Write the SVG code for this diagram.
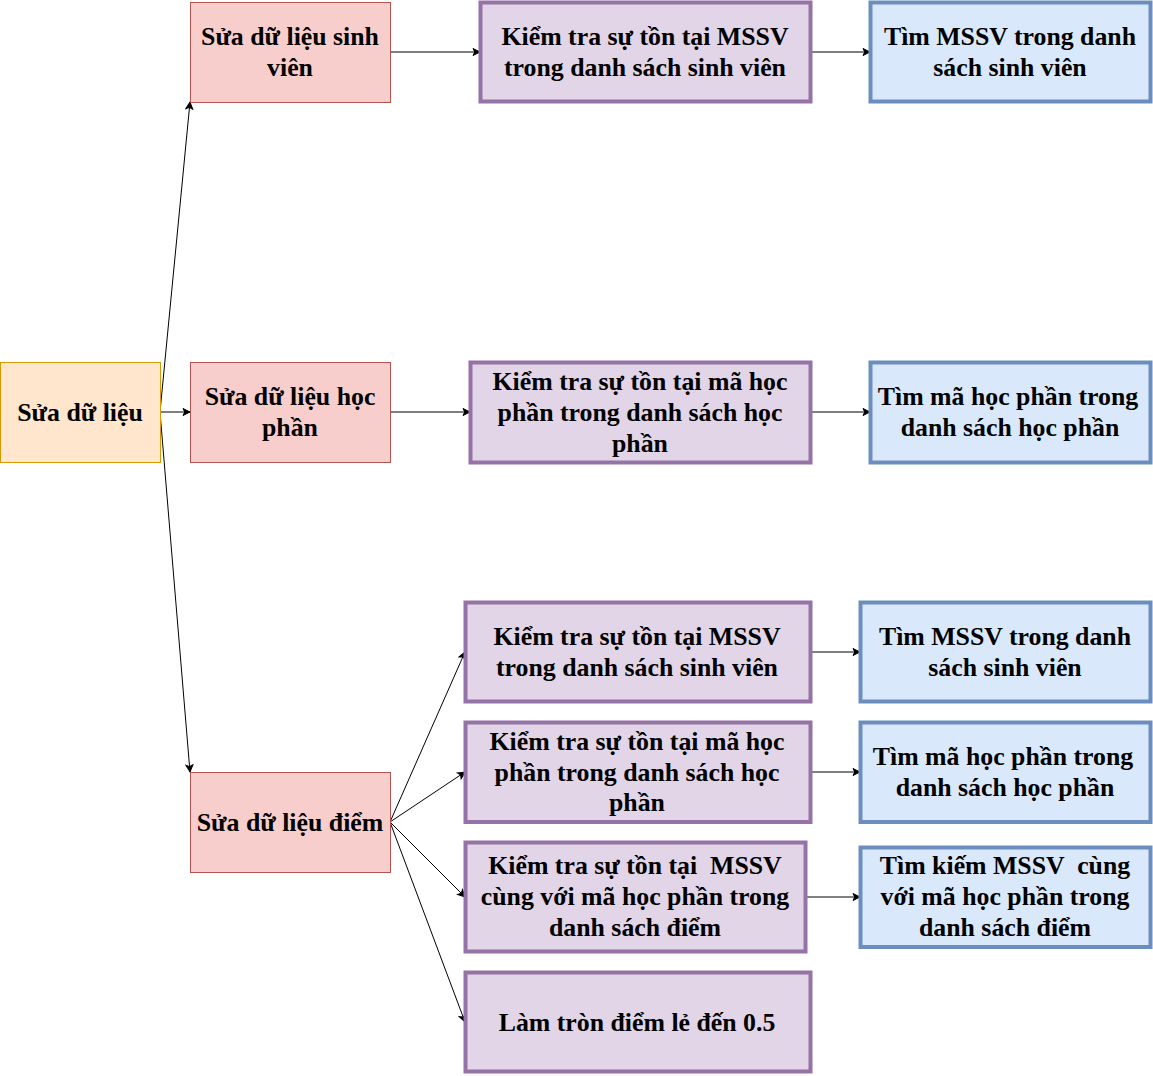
<svg xmlns="http://www.w3.org/2000/svg" width="1153" height="1076" viewBox="0 0 1153 1076">
<style>
text{font-family:"Liberation Serif","Times New Roman",serif;font-weight:bold;font-size:25.8px;fill:#000;text-anchor:middle;white-space:pre}
.a rect{fill:#ffe6cc;stroke:#d79b00;stroke-width:1}
.b rect{fill:#f8cecc;stroke:#b85450;stroke-width:1}
.c rect{fill:#e1d5e7;stroke:#9673a6;stroke-width:4}
.d rect{fill:#dae8fc;stroke:#6c8ebf;stroke-width:4}
#edges line{stroke:#000;stroke-width:1;fill:none;marker-end:url(#arr)}
</style>
<defs>
<marker id="arr" markerUnits="userSpaceOnUse" markerWidth="10" markerHeight="10" viewBox="-1 -5 10 10" refX="7" refY="0" orient="auto">
<path d="M0,-3.5 L7,0 L0,3.5 L1.75,0 Z" fill="#000" stroke="#000" stroke-width="1"/>
</marker>
</defs>
<rect width="1153" height="1076" fill="#fff"/>
<g id="edges">
<line x1="160" y1="412" x2="190" y2="102"/>
<line x1="160" y1="412" x2="190" y2="412"/>
<line x1="160" y1="412" x2="190" y2="772"/>
<line x1="390" y1="52" x2="480" y2="52"/>
<line x1="810" y1="52" x2="870" y2="52"/>
<line x1="390" y1="412" x2="470" y2="412"/>
<line x1="810" y1="412" x2="870" y2="412"/>
<line x1="390" y1="822" x2="465" y2="652"/>
<line x1="390" y1="822" x2="465" y2="772"/>
<line x1="390" y1="822" x2="465" y2="897"/>
<line x1="390" y1="822" x2="465" y2="1022"/>
<line x1="810" y1="652" x2="860" y2="652"/>
<line x1="810" y1="772" x2="860" y2="772"/>
<line x1="805" y1="897" x2="860" y2="897"/>
</g>
<g id="n-root" class="a"><rect x="0.5" y="362.5" width="160" height="100"/><text x="80" y="421">Sửa dữ liệu</text></g>
<g id="n-sv" class="b"><rect x="190.5" y="2.5" width="200" height="100"/><text x="290" y="45">Sửa dữ liệu sinh</text><text x="290" y="76">viên</text></g>
<g id="n-hp" class="b"><rect x="190.5" y="362.5" width="200" height="100"/><text x="290" y="405">Sửa dữ liệu học</text><text x="290" y="436">phần</text></g>
<g id="n-diem" class="b"><rect x="190.5" y="772.5" width="200" height="100"/><text x="290" y="831">Sửa dữ liệu điểm</text></g>
<g id="n-c1" class="c"><rect x="480.5" y="2.5" width="330" height="99"/><text x="645" y="45">Kiểm tra sự tồn tại MSSV</text><text x="645" y="76">trong danh sách sinh viên</text></g>
<g id="n-d1" class="d"><rect x="870.5" y="2.5" width="280" height="99"/><text x="1010" y="45">Tìm MSSV trong danh</text><text x="1010" y="76">sách sinh viên</text></g>
<g id="n-c2" class="c"><rect x="470.5" y="362.5" width="340" height="100"/><text x="640" y="390">Kiểm tra sự tồn tại mã học</text><text x="640" y="421">phần trong danh sách học</text><text x="640" y="451.5">phần</text></g>
<g id="n-d2" class="d"><rect x="870.5" y="362.5" width="280" height="100"/><text x="1008" y="405">Tìm mã học phần trong</text><text x="1010" y="436">danh sách học phần</text></g>
<g id="n-c3" class="c"><rect x="465.5" y="602.5" width="345" height="99"/><text x="637" y="645">Kiểm tra sự tồn tại MSSV</text><text x="637" y="676">trong danh sách sinh viên</text></g>
<g id="n-d3" class="d"><rect x="860.5" y="602.5" width="290" height="99"/><text x="1005" y="645">Tìm MSSV trong danh</text><text x="1005" y="676">sách sinh viên</text></g>
<g id="n-c4" class="c"><rect x="465.5" y="722.5" width="345" height="99.5"/><text x="637" y="750">Kiểm tra sự tồn tại mã học</text><text x="637" y="781">phần trong danh sách học</text><text x="637" y="811">phần</text></g>
<g id="n-d4" class="d"><rect x="860.5" y="722.5" width="290" height="99.5"/><text x="1003" y="765">Tìm mã học phần trong</text><text x="1005" y="796">danh sách học phần</text></g>
<g id="n-c5" class="c"><rect x="465.5" y="842.5" width="340" height="109"/><text x="635" y="874">Kiểm tra sự tồn tại  MSSV</text><text x="635" y="905">cùng với mã học phần trong</text><text x="635" y="936">danh sách điểm</text></g>
<g id="n-d5" class="d"><rect x="860.5" y="847.5" width="290" height="99.5"/><text x="1005" y="874">Tìm kiếm MSSV  cùng</text><text x="1005" y="905">với mã học phần trong</text><text x="1005" y="936">danh sách điểm</text></g>
<g id="n-c6" class="c"><rect x="465.5" y="972.5" width="345" height="99"/><text x="637" y="1031">Làm tròn điểm lẻ đến 0.5</text></g>
</svg>
